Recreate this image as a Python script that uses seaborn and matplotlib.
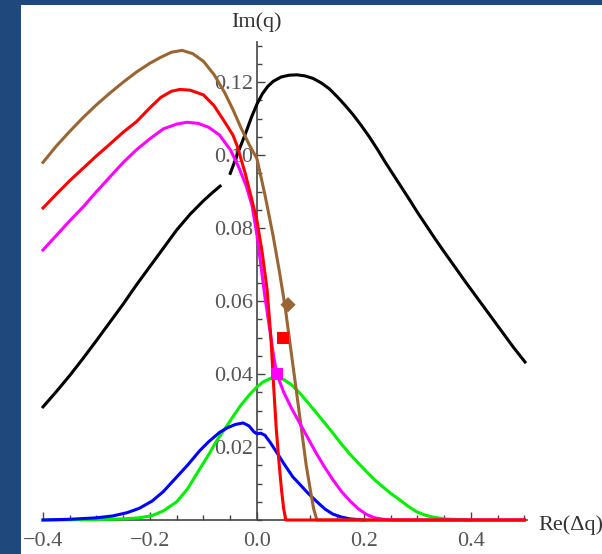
import numpy as np
import matplotlib
matplotlib.use("Agg")
import matplotlib.pyplot as plt
from matplotlib.patches import Rectangle
from matplotlib.ticker import MultipleLocator, FixedLocator
import seaborn as sns

# curves: x = Re(dq), y = Im(q)
brown_x = [-0.40, -0.375, -0.35, -0.325, -0.30, -0.275, -0.25, -0.225, -0.20, -0.18, -0.16, -0.14,
           -0.12, -0.10, -0.08, -0.06, -0.045, -0.03, -0.015, 0.0, 0.015, 0.030, 0.042, 0.053,
           0.063, 0.073, 0.083, 0.092, 0.100, 0.106, 0.112, 0.30, 0.50]
brown_y = [0.0980, 0.1025, 0.1065, 0.1103, 0.1138, 0.1170, 0.1200, 0.1228, 0.1252, 0.1268, 0.1282, 0.1287,
           0.1278, 0.1257, 0.1220, 0.1170, 0.1125, 0.1075, 0.1030, 0.0990, 0.0890, 0.0780, 0.0680, 0.0580,
           0.0470, 0.0360, 0.0250, 0.0150, 0.0080, 0.0030, 0.0, 0.0, 0.0]

red_x = [-0.40, -0.375, -0.35, -0.325, -0.30, -0.275, -0.25, -0.225, -0.20, -0.18, -0.16, -0.144,
         -0.125, -0.10, -0.08, -0.06, -0.045, -0.037, -0.022, -0.010, 0.0, 0.010, 0.019, 0.026,
         0.031, 0.036, 0.041, 0.046, 0.050, 0.054, 0.30, 0.50]
red_y = [0.0855, 0.0893, 0.0930, 0.0964, 0.0998, 0.1030, 0.1063, 0.1092, 0.1130, 0.1158, 0.1175, 0.1180,
         0.1178, 0.1165, 0.1135, 0.1090, 0.1055, 0.1025, 0.0950, 0.0880, 0.0820, 0.0730, 0.0630, 0.0500,
         0.0370, 0.0250, 0.0160, 0.0080, 0.0030, 0.0, 0.0, 0.0]

magenta_x = [-0.40, -0.375, -0.35, -0.325, -0.30, -0.275, -0.25, -0.225, -0.20, -0.175, -0.15, -0.131,
             -0.11, -0.09, -0.07, -0.05, -0.035, -0.02, -0.009, 0.0, 0.008, 0.015, 0.024, 0.031,
             0.037, 0.050, 0.065, 0.080, 0.095, 0.110, 0.125, 0.142, 0.158, 0.174, 0.19, 0.205,
             0.22, 0.24, 0.26, 0.50]
magenta_y = [0.0740, 0.0780, 0.0820, 0.0858, 0.0900, 0.0940, 0.0980, 0.1015, 0.1045, 0.1072, 0.1085, 0.1090,
             0.1087, 0.1076, 0.1055, 0.1015, 0.0970, 0.0915, 0.0860, 0.0780, 0.0690, 0.0610, 0.0520, 0.0450,
             0.0400, 0.0350, 0.0305, 0.0265, 0.0225, 0.0185, 0.0148, 0.0110, 0.0078, 0.0052, 0.0030, 0.0015,
             0.0006, 0.0001, 0.0, 0.0]

green_x = [-0.40, -0.30, -0.25, -0.22, -0.196, -0.175, -0.15, -0.13, -0.107, -0.09, -0.075, -0.06,
           -0.045, -0.03, -0.013, 0.0, 0.011, 0.025, 0.037, 0.050, 0.065, 0.080, 0.095, 0.112,
           0.127, 0.142, 0.158, 0.174, 0.19, 0.205, 0.22, 0.236, 0.25, 0.267, 0.283, 0.299,
           0.315, 0.329, 0.35, 0.38, 0.40]
green_y = [0.0, 0.0001, 0.0003, 0.0006, 0.0012, 0.0025, 0.0050, 0.0085, 0.0140, 0.0180, 0.0218, 0.0250,
           0.0283, 0.0315, 0.0345, 0.0365, 0.0378, 0.0388, 0.0390, 0.0385, 0.0370, 0.0348, 0.0322, 0.0292,
           0.0265, 0.0238, 0.0208, 0.0180, 0.0155, 0.0132, 0.0110, 0.0090, 0.0073, 0.0055, 0.0037, 0.0022,
           0.0013, 0.0008, 0.0003, 0.0001, 0.0]

blue_x = [-0.40, -0.35, -0.30, -0.27, -0.243, -0.22, -0.196, -0.175, -0.15, -0.13, -0.107, -0.09,
          -0.07, -0.055, -0.04, -0.026, -0.015, -0.006, 0.0, 0.007, 0.015, 0.025, 0.037, 0.050,
          0.067, 0.080, 0.095, 0.112, 0.127, 0.142, 0.158, 0.174, 0.20]
blue_y = [0.0, 0.0002, 0.0006, 0.0011, 0.0020, 0.0032, 0.0052, 0.0078, 0.0118, 0.0150, 0.0190, 0.0215,
          0.0240, 0.0253, 0.0262, 0.0266, 0.0258, 0.0242, 0.0236, 0.0238, 0.0232, 0.0212, 0.0185, 0.0155,
          0.0118, 0.0098, 0.0074, 0.0050, 0.0030, 0.0016, 0.0008, 0.0003, 0.0]

black_left_x = [-0.40, -0.375, -0.35, -0.325, -0.30, -0.275, -0.25, -0.225, -0.20, -0.175, -0.15,
                -0.125, -0.10, -0.085, -0.069]
black_left_y = [0.0310, 0.0352, 0.0396, 0.0443, 0.0492, 0.0542, 0.0592, 0.0645, 0.0695, 0.0745, 0.0795,
                0.0838, 0.0875, 0.0895, 0.0915]

black_right_x = [-0.050, -0.041, -0.032, -0.020, -0.010, 0.000, 0.010, 0.020, 0.030, 0.045, 0.060,
                 0.075, 0.090, 0.105, 0.120, 0.135, 0.150, 0.165, 0.180, 0.195, 0.210, 0.225,
                 0.240, 0.255, 0.270, 0.285, 0.300, 0.315, 0.330, 0.345, 0.360, 0.375, 0.390,
                 0.405, 0.420, 0.435, 0.450, 0.465, 0.480, 0.501]
black_right_y = [0.0950, 0.0985, 0.1020, 0.1065, 0.1105, 0.1140, 0.1168, 0.1188, 0.1202, 0.1214, 0.1219,
                 0.1220, 0.1217, 0.1210, 0.1198, 0.1182, 0.1160, 0.1136, 0.1110, 0.1081, 0.1050, 0.1016,
                 0.0980, 0.0946, 0.0912, 0.0878, 0.0843, 0.0810, 0.0777, 0.0745, 0.0714, 0.0683, 0.0652,
                 0.0622, 0.0592, 0.0562, 0.0532, 0.0502, 0.0472, 0.0433]

# marked points
pt_x = [0.058, 0.049, 0.037]
pt_y = [0.059, 0.050, 0.040]
pt_colors = ["#996633", "#ff0000", "#ff00ff"]
pt_markers = ["D", "s", "s"]

fig = plt.figure(figsize=(6.02, 5.54), dpi=100)
fig.patch.set_facecolor("#1f497d")
fig.patches.append(Rectangle((21 / 602, 0), 1 - 21 / 602, 549 / 554, transform=fig.transFigure,
                             facecolor="white", edgecolor="none", zorder=-1))

ax = fig.add_axes([43 / 602, 34 / 554, 484 / 602, 478 / 554])
ax.patch.set_alpha(0)
ax.set_xlim(-0.4, 0.5047)
ax.set_ylim(0, 0.131)

lw = 2.2
curves = [
    (black_left_x, black_left_y, "black"),
    (black_right_x, black_right_y, "black"),
    (green_x, green_y, "#00ee00"),
    (blue_x, blue_y, "#0000ff"),
    (brown_x, brown_y, "#996633"),
    (magenta_x, magenta_y, "#ff00ff"),
    (red_x, red_y, "#ff0000"),
]
for xs, ys, c in curves:
    sns.lineplot(x=xs, y=ys, color=c, lw=lw, sort=False, estimator=None, ax=ax,
                 clip_on=False, zorder=3)

for x, y, c, m in zip(pt_x, pt_y, pt_colors, pt_markers):
    sns.scatterplot(x=[x], y=[y], color=c, marker=m, s=60 if m == "D" else 75,
                    edgecolor="none", ax=ax, zorder=4)

# Mathematica-style axes through the origin
ax.spines["left"].set_position(("data", 0))
ax.spines["bottom"].set_position(("data", 0))
ax.spines["top"].set_visible(False)
ax.spines["right"].set_visible(False)
for s in ("left", "bottom"):
    ax.spines[s].set_color("#444444")
    ax.spines[s].set_linewidth(1.2)

ax.xaxis.set_major_locator(FixedLocator([-0.4, -0.2, 0.0, 0.2, 0.4]))
ax.xaxis.set_minor_locator(MultipleLocator(0.05))
ax.yaxis.set_major_locator(FixedLocator([0.02, 0.04, 0.06, 0.08, 0.10, 0.12]))
ax.yaxis.set_minor_locator(MultipleLocator(0.005))
ax.set_xticklabels(["\u22120.4", "\u22120.2", "0.0", "0.2", "0.4"])
ax.set_yticklabels(["0.02", "0.04", "0.06", "0.08", "0.10", "0.12"])

ax.tick_params(which="both", direction="in", color="#444444", width=1.0)
ax.tick_params(which="major", length=6)
ax.tick_params(which="minor", length=3.5)
ax.tick_params(axis="x", pad=9)
ax.tick_params(axis="y", pad=3)
for lab in ax.get_xticklabels() + ax.get_yticklabels():
    lab.set_fontfamily("Liberation Serif")
    lab.set_fontsize(16)
    lab.set_color("#555555")
    lab.set_zorder(1)

ax.set_xlabel("")
ax.set_ylabel("")
fig.text(256 / 602, 1 - 22 / 554, "Im(q)", ha="center", va="center",
         fontfamily="Liberation Serif", fontsize=16, color="#333333")
fig.text(538 / 602, 1 - 525 / 554, "Re(\u0394q)", ha="left", va="center",
         fontfamily="Liberation Serif", fontsize=16, color="#333333")

fig.savefig("out.png", dpi=100, facecolor=fig.get_facecolor())
